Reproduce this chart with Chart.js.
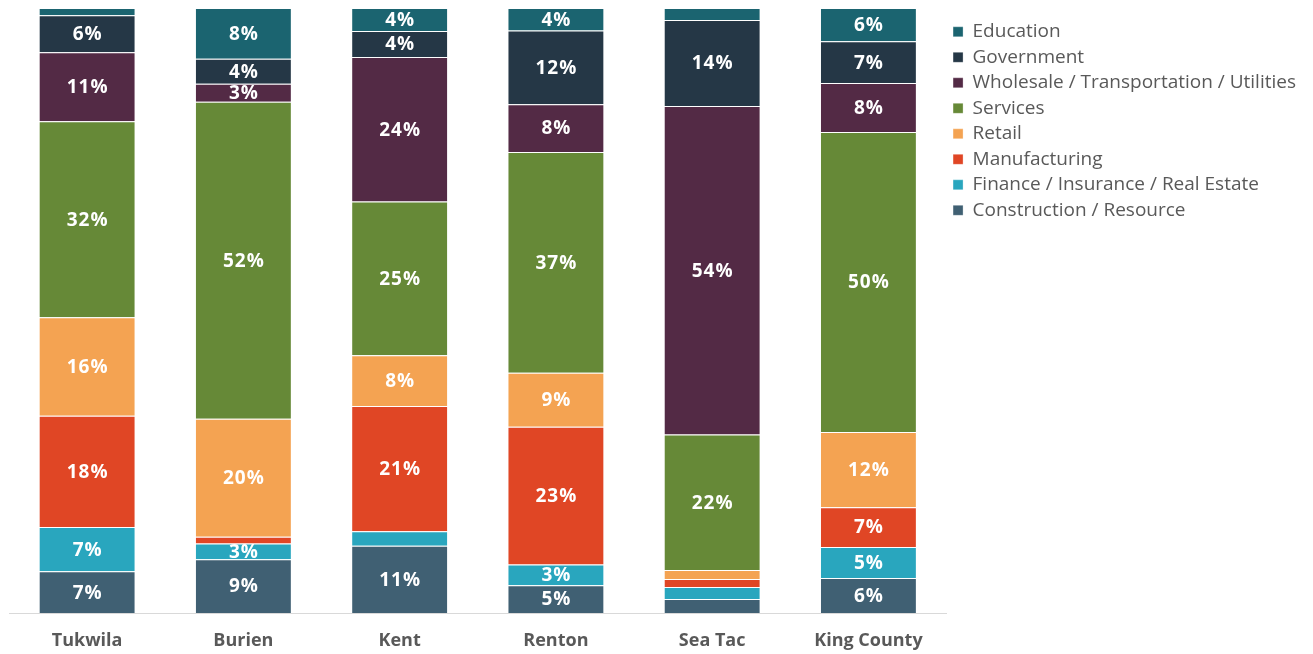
<!DOCTYPE html>
<html>
<head>
<meta charset="utf-8">
<script src="https://cdn.jsdelivr.net/npm/chart.js@4.4.1/dist/chart.umd.min.js"></script>
<style>
  html, body { margin: 0; padding: 0; background: #fff; }
</style>
</head>
<body>
<canvas id="industryChart" width="1313" height="654"></canvas>
<script>
// share of employment by industry, percent (each column ~100)
const cities = ['Tukwila', 'Burien', 'Kent', 'Renton', 'Sea Tac', 'King County'];

const construction = [6.9, 8.9, 11.1, 4.6, 2.3, 5.8];
const finance = [7.3, 2.6, 2.4, 3.4, 2.0, 5.1];
const manufacturing = [18.4, 1.1, 20.7, 22.8, 1.3, 6.6];
const retail = [16.3, 19.5, 8.4, 8.9, 1.5, 12.4];
const services = [32.4, 52.4, 25.4, 36.5, 22.4, 49.6];
const wholesale = [11.4, 3.0, 23.9, 7.9, 54.3, 8.1];
const government = [6.1, 4.1, 4.3, 12.2, 14.2, 6.9];
const education = [1.2, 8.4, 3.8, 3.7, 2.0, 5.5];

const labelFont = 'Open Sans';

// white % labels in the middle of each segment (small ones are skipped)
const segmentLabels = {
  id: 'segmentLabels',
  afterDatasetsDraw(chart) {
    const ctx = chart.ctx;
    ctx.save();
    ctx.font = 'bold 19px ' + labelFont;
    ctx.letterSpacing = '1px';
    ctx.fillStyle = '#ffffff';
    ctx.textAlign = 'center';
    ctx.textBaseline = 'middle';
    chart.data.datasets.forEach((ds, i) => {
      chart.getDatasetMeta(i).data.forEach((bar, j) => {
        const v = ds.data[j];
        if (v < 2.5) return;
        ctx.fillText(Math.round(v) + '%', bar.x + 0.5, (bar.y + bar.base) / 2 + 1);
      });
    });
    ctx.restore();
  },
};

function series(label, data, color) {
  return {
    label: label,
    data: data,
    backgroundColor: color,
    borderColor: 'rgba(255,255,255,0.3)',
    borderWidth: 1,
    barPercentage: 0.62,
    categoryPercentage: 1,
  };
}

const ctx = document.getElementById('industryChart');

new Chart(ctx, {
  type: 'bar',
  data: {
    labels: cities,
    datasets: [
      series('Construction / Resource', construction, '#406073'),
      series('Finance / Insurance / Real Estate', finance, '#29a6be'),
      series('Manufacturing', manufacturing, '#e04625'),
      series('Retail', retail, '#f4a352'),
      series('Services', services, '#668937'),
      series('Wholesale / Transportation / Utilities', wholesale, '#532a45'),
      series('Government', government, '#253746'),
      series('Education', education, '#1b6470'),
    ],
  },
  options: {
    responsive: false,
    animation: false,
    layout: {
      padding: { top: 8, left: 9, right: 7, bottom: 4 },
    },
    plugins: {
      tooltip: { enabled: false },
      legend: {
        position: 'right',
        align: 'start',
        reverse: true,
        title: { display: true, text: ' ', padding: 0, font: { size: 6.5 } },
        labels: {
          boxWidth: 10,
          boxHeight: 10,
          padding: 6.5,
          color: '#595959',
          font: { family: labelFont, size: 19 },
        },
      },
    },
    scales: {
      x: {
        stacked: true,
        grid: { display: false, drawTicks: false },
        border: { color: '#d9d9d9', width: 1 },
        ticks: {
          color: '#595959',
          padding: 17,
          font: { family: labelFont, size: 18, weight: 'bold' },
        },
        afterFit(scale) {
          scale.height = 37;
        },
      },
      y: {
        stacked: true,
        display: false,
        min: 0,
        max: 100,
      },
    },
  },
  plugins: [segmentLabels],
});
</script>
</body>
</html>
